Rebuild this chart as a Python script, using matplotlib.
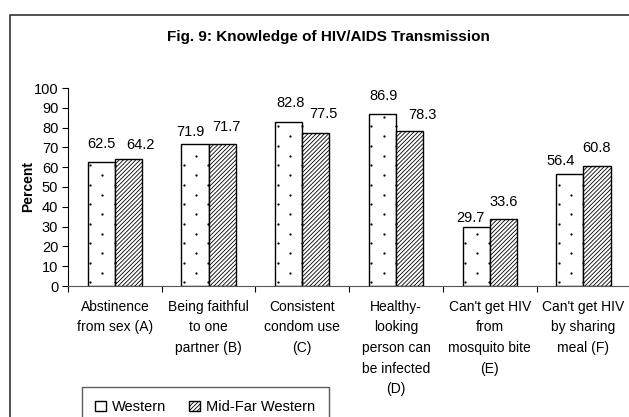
import numpy as np
import matplotlib.pyplot as plt
from matplotlib.patches import Rectangle

plt.rcParams['font.family'] = ['Liberation Sans', 'DejaVu Sans']
plt.rcParams['hatch.linewidth'] = 0.6

# data
categories = ["Abstinence\nfrom sex (A)",
              "Being faithful\nto one\npartner (B)",
              "Consistent\ncondom use\n(C)",
              "Healthy-\nlooking\nperson can\nbe infected\n(D)",
              "Can't get HIV\nfrom\nmosquito bite\n(E)",
              "Can't get HIV\nby sharing\nmeal (F)"]
western = [62.5, 71.9, 82.8, 86.9, 29.7, 56.4]
midfar = [64.2, 71.7, 77.5, 78.3, 33.6, 60.8]

# label nudges (pixels) as placed in the original chart
w_nudge = [(0, 14), (-5, 8), (2, 15), (1, 14), (-6, 5), (-9, 9)]
m_nudge = [(11.5, 10), (4, 13), (8, 15), (13, 12), (0, 13), (0, 14)]

W, H = 629, 417
fig = plt.figure(figsize=(W / 100, H / 100), dpi=100)

# outer chart frame (right and bottom cut off like the original)
fig.patches.append(Rectangle((10 / W, -0.2), 1.5, (H - 15) / H + 0.2,
                             transform=fig.transFigure, fill=False,
                             edgecolor='#333333', linewidth=1.2))

pos = [68 / W, 1 - 286 / H, 1 - 68 / W + 0.002, (286 - 88) / H]
ax = fig.add_axes(pos)

x = np.arange(len(categories)) + 0.5
bw = 0.29
b1 = ax.bar(x - bw / 2, western, bw, color='white', edgecolor='black',
            linewidth=1, label='Western')
b2 = ax.bar(x + bw / 2, midfar, bw, color='white', edgecolor='black',
            linewidth=1, hatch='////////', label='Mid-Far Western')

ax.set_xlim(0, len(categories))
ax.set_ylim(0, 100)

# sparse dot texture for the Western bars (Excel-like pattern)
px_x = len(categories) / (W * pos[2])   # data units per pixel
px_y = 100 / (H * pos[3])
dx_list, dy_list = [], []
for xl, h in zip(x - bw, western):
    col = 0
    cx = xl + 2.5 * px_x
    while cx <= xl + bw + 0.5 * px_x:
        start = 4 if col % 2 == 0 else 13.5
        ys = np.arange(start * px_y, h - 2 * px_y, 19.5 * px_y)
        dx_list += [cx] * len(ys)
        dy_list += list(ys)
        cx += 12.2 * px_x
        col += 1
ax.scatter(dx_list, dy_list, s=2.6, c='black', marker='o', linewidths=0, zorder=2.5)

# value labels
for xw, w, m, wn, mn in zip(x, western, midfar, w_nudge, m_nudge):
    ax.annotate(f"{w:.1f}", (xw - bw / 2, w), xytext=wn,
                textcoords='offset pixels', ha='center', va='baseline', fontsize=10.5)
    ax.annotate(f"{m:.1f}", (xw + bw / 2, m), xytext=mn,
                textcoords='offset pixels', ha='center', va='baseline', fontsize=10.5)

ax.set_yticks(range(0, 101, 10))
ax.set_xticks(np.arange(len(categories) + 1))
ax.set_xticklabels([])
ax.set_xticks(x, minor=True)
ax.set_xticklabels(categories, minor=True, fontsize=10, linespacing=1.6, va='top')
ax.tick_params(axis='x', which='minor', length=0, pad=10)
ax.tick_params(axis='x', which='major', length=4, direction='out')
ax.tick_params(axis='y', length=4, direction='out', labelsize=10.5, pad=3)
for s in ['top', 'right']:
    ax.spines[s].set_visible(False)
ax.spines['bottom'].set_color('#555555')

ax.set_ylabel("Percent", fontsize=10, fontweight='bold', labelpad=-1)

fig.text(0.522, 1 - 37 / H, "Fig. 9: Knowledge of HIV/AIDS Transmission",
         ha='center', va='center', fontsize=11, fontweight='bold')

fig.legend(handles=[b1, b2], loc='upper left',
           bbox_to_anchor=(82 / W, 1 - 387 / H), ncol=2, fontsize=10.5,
           frameon=True, fancybox=False, edgecolor='#333333',
           handlelength=0.75, handleheight=0.75, handletextpad=0.4,
           columnspacing=1.6, borderpad=0.9, borderaxespad=0)

fig.savefig("out.png", dpi=100)
